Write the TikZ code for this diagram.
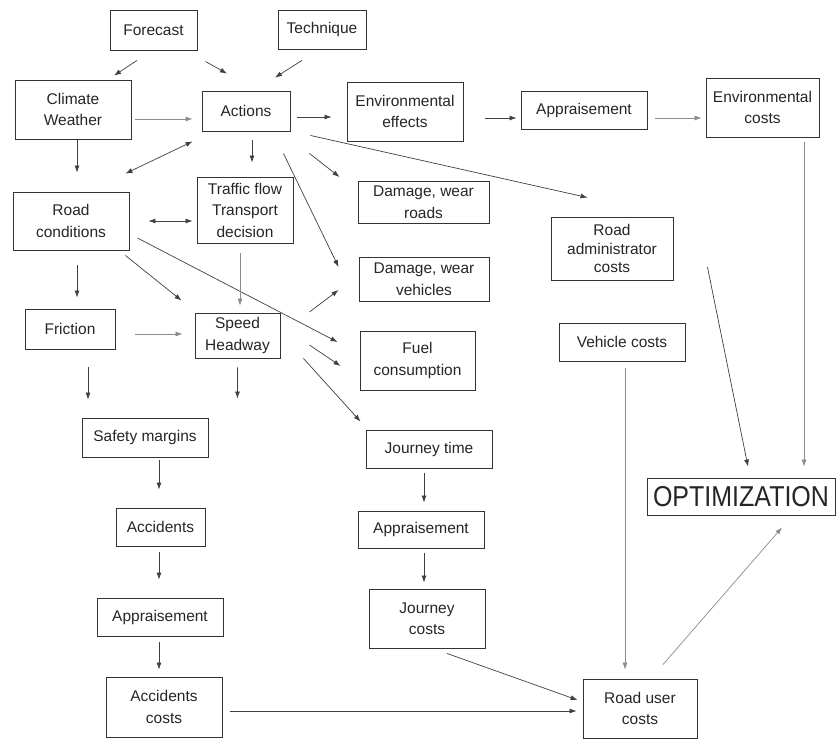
\documentclass[tikz,border=0pt]{standalone}
\usepackage{fontspec}
\setmainfont{Liberation Sans}
\usetikzlibrary{arrows.meta,calc}
\begin{document}
\begin{tikzpicture}[x=1pt,y=-1pt,
  box/.style={draw=black!80, line width=0.9pt, align=center, inner sep=0pt, text=black!85,
    font=\fontsize{15.5}{21.5}\selectfont},
  dims/.style 2 args={minimum width=#1pt, minimum height=#2pt},
  arr/.style={draw=black!75, line width=0.7pt, -{Latex[length=7pt,width=5pt]}},
  dbl/.style={draw=black!75, line width=0.7pt, {Latex[length=7pt,width=5pt]}-{Latex[length=7pt,width=5pt]}},
  faint/.style={arr, draw=black!45}]
\useasboundingbox[fill=white] (0,0) rectangle (836,740);

% boxes
\node[box, dims={87}{40}]  (forecast)    at (153.5,30)  {Forecast};
\node[box, dims={88}{39}]  (technique)   at (322,29.5)  {Technique};
\node[box, dims={116}{59}] (climate)     at (73,109.5)  {Climate\\Weather};
\node[box, dims={88}{40}]  (actions)     at (246,111)   {Actions};
\node[box, dims={116}{59}] (enveff)      at (405,111.5) {Environmental\\effects};
\node[box, dims={126}{38}] (appr1)       at (584,110)   {Appraisement};
\node[box, dims={113}{59}] (envcost)     at (762.5,107.5) {Environmental\\costs};
\node[box, dims={116}{58}] (roadcond)    at (71,221)    {Road\\conditions};
\node[box, dims={96}{66}]  (traffic)     at (245,210)   {Traffic flow\\Transport\\decision};
\node[box, dims={131}{42}] (dmgroads)    at (423.5,202) {Damage, wear\\roads};
\node[box, dims={130}{44}] (dmgveh)      at (424,279)   {Damage, wear\\vehicles};
\node[box, dims={115}{59}] (fuel)        at (417.5,360.5) {Fuel\\consumption};
\node[box, dims={122}{63}, font=\fontsize{15.5}{18.5}\selectfont]
                           (roadadmin)   at (612,248.5) {Road\\administrator\\costs};
\node[box, dims={126}{38}] (vehcost)     at (622,342)   {Vehicle costs};
\node[box, dims={90}{40}]  (friction)    at (70,329)    {Friction};
\node[box, dims={85}{45}]  (speed)       at (237.5,335.5) {Speed\\Headway};
\node[box, dims={126}{39}] (safety)      at (145,437.5) {Safety margins};
\node[box, dims={89}{38}]  (accidents)   at (160.5,527) {Accidents};
\node[box, dims={126}{38}] (appr2)       at (160,617)   {Appraisement};
\node[box, dims={116}{60}] (acccost)     at (164,707)   {Accidents\\costs};
\node[box, dims={126}{38}] (journeytime) at (429,449)   {Journey time};
\node[box, dims={126}{37}] (appr3)       at (421,529.5) {Appraisement};
\node[box, dims={116}{59}] (journeycost) at (427,618.5) {Journey\\costs};
\node[box, dims={114}{59}] (roaduser)    at (640,708.5) {Road user\\costs};
\node[box, dims={188}{37}, font=\fontsize{25}{28}\selectfont]
                           (optim)       at (741,496.5) {\scalebox{1}[1.15]{OPTIMIZATION}};

% connectors
\draw[arr]   ($(forecast.south)+(-16.5,10)$) -- ($(climate.north)+(41,-4)$);
\draw[arr]   ($(forecast.south east)+(8,11)$) -- ($(actions.north)+(-19,-17)$);
\draw[arr]   ($(technique.south)+(-20,11)$) -- ($(actions.north)+(29,-13)$);
\draw[faint] ($(climate.east)+(4,9.5)$) -- ($(actions.west)+(-9,8)$);
\draw[arr]   ($(actions.east)+(7,6)$) -- ($(enveff.west)+(-15,5.5)$);
\draw[arr]   ($(enveff.east)+(22,6.5)$) -- ($(appr1.west)+(-4,8)$);
\draw[faint] ($(appr1.east)+(8,8)$) -- ($(envcost.west)+(-4,10.5)$);
\draw[arr]   ($(climate.south)+(4,1)$) -- ($(roadcond.north)+(6,-19)$);
\draw[dbl]   ($(actions.south west)+(-9,10)$) -- ($(roadcond.north east)+(-4,-18)$);
\draw[arr]   ($(actions.south)+(6,9)$) -- ($(traffic.north)+(7,-14)$);
\draw[arr]   ($(actions.south east)+(-7,22)$) -- ($(dmgveh.west)+(-20,-12)$);
\draw[arr]   ($(actions.south east)+(19,22)$) -- ($(dmgroads.west)+(-18,-25)$);
\draw[arr]   ($(actions.south east)+(20,4)$) -- ($(roadadmin.north west)+(37,-19)$);
\draw[dbl]   ($(roadcond.east)+(19,0)$) -- ($(traffic.west)+(-4,11)$);
\draw[arr]   ($(roadcond.east)+(8,17)$) -- ($(fuel.west)+(-22,-18.5)$);
\draw[arr]   ($(roadcond.south east)+(-4,5)$) -- ($(speed.north west)+(-13,-12)$);
\draw[faint] ($(traffic.south)+(-5,10)$) -- ($(speed.north)+(2.5,-7)$);
\draw[arr]   ($(roadcond.south)+(6,15)$) -- ($(friction.north)+(7,-11)$);
\draw[faint] ($(friction.east)+(20,5)$) -- ($(speed.west)+(-12,-1.5)$);
\draw[arr]   ($(speed.east)+(29,-23.5)$) -- ($(dmgveh.west)+(-20,11)$);
\draw[arr]   ($(speed.east)+(29,9.5)$) -- ($(fuel.west)+(-19,5.5)$);
\draw[arr]   ($(speed.south east)+(23,0)$) -- ($(journeytime.north west)+(-5,-8)$);
\draw[arr]   ($(friction.south)+(18,18)$) -- ($(safety.north)+(-57,-18)$);
\draw[arr]   ($(speed.south)+(0,9)$) -- ($(safety.north east)+(29,-19)$);
\draw[arr]   ($(safety.south)+(14,3)$) -- ($(accidents.north)+(-1.5,-18)$);
\draw[arr]   ($(accidents.south)+(-1.5,6)$) -- ($(appr2.north)+(-1,-18)$);
\draw[arr]   ($(appr2.south)+(-1,6)$) -- ($(acccost.north)+(-5,-7)$);
\draw[arr]   ($(acccost.east)+(8,4)$) -- ($(roaduser.west)+(-6,2.5)$);
\draw[arr]   ($(journeytime.south)+(-5,5)$) -- ($(appr3.north)+(3,-8)$);
\draw[arr]   ($(appr3.south)+(3,5)$) -- ($(journeycost.north)+(-3,-6)$);
\draw[arr]   ($(journeycost.south)+(20,5)$) -- ($(roaduser.west)+(-5,-8.5)$);
\draw[faint] ($(vehcost.south)+(3,7)$) -- ($(roaduser.north)+(-15,-9)$);
\draw[arr]   ($(roadadmin.east)+(34,18.5)$) -- ($(optim.north)+(7,-11)$);
\draw[faint] ($(envcost.south)+(41.5,5)$) -- ($(optim.north)+(63,-11)$);
\draw[faint] ($(roaduser.north)+(23,-14)$) -- ($(optim.south)+(41,12)$);
\end{tikzpicture}
\end{document}
